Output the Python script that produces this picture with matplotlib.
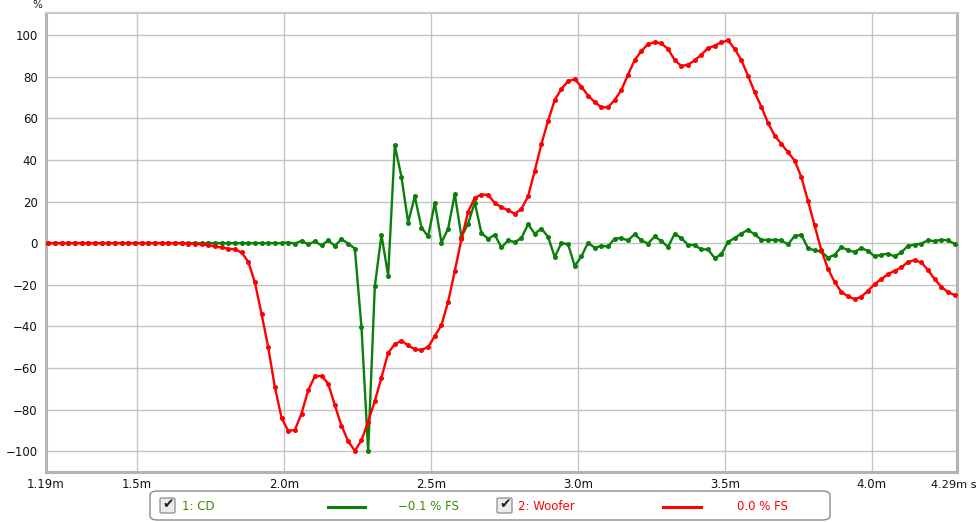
import matplotlib
matplotlib.use("Agg")
import matplotlib.pyplot as plt
from matplotlib.patches import FancyBboxPatch
from matplotlib.lines import Line2D
import numpy as np

# ---- data ----
t_start_ms = 1.1978          # first sample time (ms)
sample_rate_khz = 44.1       # samples per ms

cd_values = [
    0, 0, 0, 0, 0, 0, 0, 0, 0, 0,
    0, 0, 0, 0, 0, 0, 0, 0, 0, 0,
    0, 0, 0, 0, 0, 0, 0, 0, 0, 0,
    0, 0, 0, 0, 0, 0, 0.3, -0.2, 1.1, -0.6,
    0.8, -1.1, 1.3, -1.3, 1.9, -0.2, -2.6, -40.4, -99.8, -20.7,
    4.0, -15.6, 47.0, 31.8, 9.9, 22.5, 7.5, 3.2, 19.3, 0.3,
    6.9, 23.6, 3.0, 9.4, 19.5, 4.8, 2.1, 4.0, -2.1, 1.3,
    0.5, 2.4, 9.1, 4.5, 7.0, 3.0, -6.7, 0.0, -0.5, -11.0,
    -6.4, 0.2, -2.2, -1.3, -1.6, 2.2, 2.4, 1.3, 4.3, 1.3,
    -0.2, 3.2, 1.0, -1.8, 4.5, 2.4, -0.8, -1.0, -3.0, -3.0,
    -7.2, -5.4, 0.6, 2.4, 4.6, 6.4, 4.2, 1.6, 1.5, 1.6,
    1.3, -0.6, 3.4, 4.0, -2.4, -3.5, -4.0, -7.0, -5.6, -1.9,
    -3.4, -4.2, -2.4, -3.7, -6.4, -5.6, -5.1, -6.4, -4.5, -1.3,
    -0.8, -0.2, 1.3, 1.0, 1.6, 1.3, -0.3,
]

woofer_values = [
    0, 0, 0, 0, 0, 0, 0, 0, 0, 0,
    0, 0, 0, 0, 0, 0, 0, 0, 0, 0,
    0, -0.2, -0.3, -0.6, -1.0, -1.6, -2.1, -2.7, -3.0, -4.5,
    -8.9, -18.8, -34.0, -50.0, -69.2, -84.0, -90.2, -89.8, -81.9, -70.8,
    -64.0, -63.8, -67.5, -77.9, -87.8, -95.2, -99.8, -94.7, -85.8, -75.9,
    -64.6, -52.8, -48.5, -47.0, -49.1, -51.1, -51.3, -50.0, -44.7, -39.4,
    -28.2, -13.4, 1.9, 15.0, 21.8, 23.3, 23.2, 19.3, 17.2, 15.8,
    14.1, 16.4, 22.5, 34.8, 47.6, 58.8, 68.8, 74.1, 77.8, 78.8,
    75.2, 70.9, 67.8, 65.3, 65.3, 68.8, 73.6, 81.0, 88.0, 92.3,
    95.7, 96.5, 96.0, 93.3, 88.0, 85.1, 85.8, 87.8, 90.6, 93.6,
    94.9, 96.5, 97.4, 93.4, 88.0, 80.5, 72.5, 65.6, 57.8, 51.7,
    47.7, 43.7, 39.7, 31.8, 20.3, 8.5, -3.4, -12.3, -18.7, -23.4,
    -25.6, -26.9, -25.8, -22.9, -19.7, -17.3, -14.9, -13.3, -11.7, -9.1,
    -8.2, -9.3, -12.8, -17.3, -21.0, -23.5, -25.0,
]

x_ticks = [1.19, 1.5, 2.0, 2.5, 3.0, 3.5, 4.0]
x_tick_labels = ["1.19m", "1.5m", "2.0m", "2.5m", "3.0m", "3.5m", "4.0m"]
x_end_label = "4.29m s"
y_ticks = [-100, -80, -60, -40, -20, 0, 20, 40, 60, 80, 100]

series_names = ["1: CD", "2: Woofer"]
series_readouts = ["\u22120.1 % FS", "0.0 % FS"]

GREEN = "#0a800a"
GREEN_TXT = "#3a8a00"
RED = "#ff0000"

t = t_start_ms + np.arange(len(cd_values)) / sample_rate_khz

W, H = 980, 522
fig = plt.figure(figsize=(W / 100, H / 100), dpi=100)
fig.patch.set_facecolor("white")

def fx(px):
    return px / W

def fy(py):
    return 1 - py / H

ax = fig.add_axes([fx(46), fy(472), fx(957) - fx(46), fy(13) - fy(472)])
ax.set_xlim(1.19, 4.29)
ax.set_ylim(-110, 110.6)

ax.plot(t, cd_values, color=GREEN, lw=1.7, marker="o", ms=3.6,
        markeredgewidth=0, zorder=3)
ax.plot(t, woofer_values, color=RED, lw=1.7, marker="o", ms=3.6,
        markeredgewidth=0, zorder=4)

ax.set_xticks(x_ticks)
ax.set_xticklabels(x_tick_labels)
ax.set_yticks(y_ticks)
ax.set_yticklabels([str(v).replace("-", "\u2212") for v in y_ticks])
ax.tick_params(axis="both", length=0, labelsize=8.5, colors="#111111")
ax.tick_params(axis="y", pad=6)
ax.tick_params(axis="x", pad=4)
ax.grid(True, color="#c4c4c4", lw=1.0)
ax.set_axisbelow(True)
for side in ["left", "bottom", "right"]:
    ax.spines[side].set_color("#b4b4b4")
    ax.spines[side].set_linewidth(2.2)
ax.spines["top"].set_color("#c8c8c8")
ax.spines["top"].set_linewidth(1.5)

# end label and units
fig.text(fx(977), fy(485), x_end_label, fontsize=8.2, color="#111111",
         ha="right", va="center")
fig.text(fx(37), fy(5), "%", fontsize=7.5, color="#111111",
         ha="center", va="center")

# ---- legend panel ----
box = FancyBboxPatch((fx(150), fy(520)), fx(830) - fx(150), fy(491) - fy(520),
                     boxstyle="round,pad=0,rounding_size=0.008",
                     transform=fig.transFigure, facecolor="white",
                     edgecolor="#8a8a8a", lw=1.0)
fig.patches.append(box)

def checkbox(px):
    cb = FancyBboxPatch((fx(px), fy(513)), fx(15), fx(15) * W / H,
                        boxstyle="round,pad=0,rounding_size=0.002",
                        transform=fig.transFigure, facecolor="#ececec",
                        edgecolor="#8c8c8c", lw=0.9)
    fig.patches.append(cb)
    fig.text(fx(px + 8.5), fy(504), "\u2714", fontsize=10, color="#222222",
             ha="center", va="center")

legend_items = [
    (160, 182, 328, 365, 398, series_names[0], series_readouts[0], GREEN, GREEN_TXT),
    (497, 518, 663, 701, 737, series_names[1], series_readouts[1], RED, RED),
]
for cbx, namex, l0, l1, valx, name, val, lc, tc in legend_items:
    checkbox(cbx)
    fig.text(fx(namex), fy(506), name, fontsize=8.5, color=tc,
             ha="left", va="center")
    fig.lines.append(Line2D([fx(l0), fx(l1)], [fy(507), fy(507)],
                            transform=fig.transFigure, color=lc, lw=2.2))
    fig.text(fx(valx), fy(506), val, fontsize=8.5, color=tc,
             ha="left", va="center")

fig.savefig("out.png", dpi=100)
